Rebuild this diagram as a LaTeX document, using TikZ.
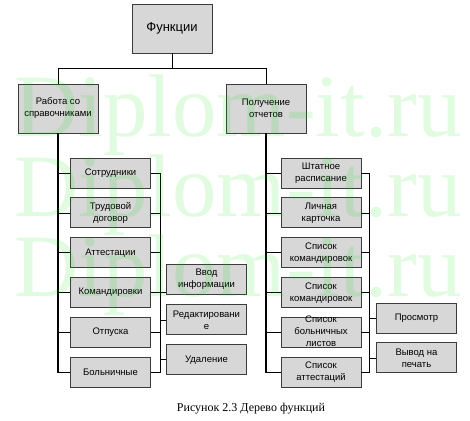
\documentclass[tikz,border=0pt]{standalone}
\usepackage{fontspec}
\setmainfont{Liberation Sans}
\newfontfamily\serifcap{Liberation Serif}
\usetikzlibrary{positioning}
\definecolor{BoxFill}{RGB}{215,215,215}
\definecolor{BoxLine}{RGB}{60,60,60}
\definecolor{MarkGreen}{RGB}{0,225,0}

\begin{document}
\begin{tikzpicture}[x=1pt, y=-1pt,
    box/.style={draw=BoxLine, fill=BoxFill, line width=0.9pt, minimum width=80pt,
      minimum height=30pt, inner sep=1pt, align=center, font=\fontsize{9.5}{12}\selectfont},
    bigbox/.style={box, minimum height=49pt},
    link/.style={line width=0.8pt},
    trunk/.style={line width=1.8pt},
    watermark/.style={text=MarkGreen, text opacity=0.12, inner sep=0pt,
      font=\serifcap\fontsize{89}{90}\selectfont}]
  \useasboundingbox (0,0) rectangle (470,420);

  % top levels
  \node[bigbox, font=\fontsize{13}{15}\selectfont] (root) at (172,28.5) {Функции};
  \node[bigbox] (sprav) at (58,108.5) {Работа со\\справочниками};
  \node[bigbox] (otch) at (266,108.5) {Получение\\отчетов};

  % left branch
  \node[box] (sotr) at (110.5,173) {Сотрудники};
  \node[box, below=9pt of sotr] (trud) {Трудовой\\договор};
  \node[box, below=9pt of trud] (att) {Аттестации};
  \node[box, below=9pt of att] (kom) {Командировки};
  \node[box, below=9pt of kom] (otp) {Отпуска};
  \node[box, below=9pt of otp] (boln) {Больничные};
  \node[box] (vvod) at (206.5,279) {Ввод\\информации};
  \node[box, below=10pt of vvod] (red) {Редактировани\\е};
  \node[box, below=9pt of red] (ud) {Удаление};

  % right branch
  \node[box] (sht) at (321,173) {Штатное\\расписание};
  \node[box, below=9pt of sht] (lich) {Личная\\карточка};
  \node[box, below=9pt of lich] (spkoma) {Список\\командировок};
  \node[box, below=9pt of spkoma] (spkomb) {Список\\командировок};
  \node[box, below=9pt of spkomb] (spboln)
    {\smash{\raisebox{-2pt}{\begin{tabular}[c]{@{}c@{}}Список\\больничных\\листов\end{tabular}}}};
  \node[box, below=9pt of spboln] (spatt) {Список\\аттестаций};
  \node[box] (prosm) at (416.5,318) {Просмотр};
  \node[box, below=9pt of prosm] (vyvod) {Вывод на\\печать};

  \node[font=\serifcap\fontsize{12}{14}\selectfont] (caption) at (251,409) {Рисунок 2.3 Дерево функций};

  % connectors
  \draw[link] (root.south) -- ++(0,15) -| (sprav.north);
  \draw[link] (root.south) -- ++(0,15) -| (otch.north);

  \draw[trunk] (sprav.south) -- (sprav.south |- boln.west);
  \foreach \n in {sotr,trud,att,kom,otp,boln}
    \draw[link] (sprav.south |- \n.west) -- (\n.west);
  \coordinate (lbus) at (160,173);
  \draw[link] (lbus) -- (lbus |- boln.east);
  \foreach \n in {sotr,trud,att,kom,otp,boln}
    \draw[link] (\n.east) -- (\n.east -| lbus);
  \draw[link] (kom.east -| lbus) -- (kom.east -| vvod.west);
  \draw[link] (lbus |- red.west) -- (red.west);
  \draw[link] (lbus |- ud.west) -- (ud.west);

  \draw[trunk] (otch.south) -- (otch.south |- spatt.west);
  \foreach \n in {sht,lich,spkoma,spkomb,spboln,spatt}
    \draw[link] (otch.south |- \n.west) -- (\n.west);
  \coordinate (rbus) at (369,173);
  \draw[link] (rbus) -- (rbus |- spatt.east);
  \foreach \n in {sht,lich,spkoma,spkomb,spboln,spatt}
    \draw[link] (\n.east) -- (\n.east -| rbus);
  \draw[link] (rbus |- prosm.west) -- (prosm.west);
  \draw[link] (rbus |- vyvod.west) -- (vyvod.west);

  % watermark rows
  \foreach \y [count=\i] in {136,216,296}
    \node[watermark, anchor=base west] (wm\i) at (14,\y) {Diplom-it.ru};
\end{tikzpicture}
\end{document}
